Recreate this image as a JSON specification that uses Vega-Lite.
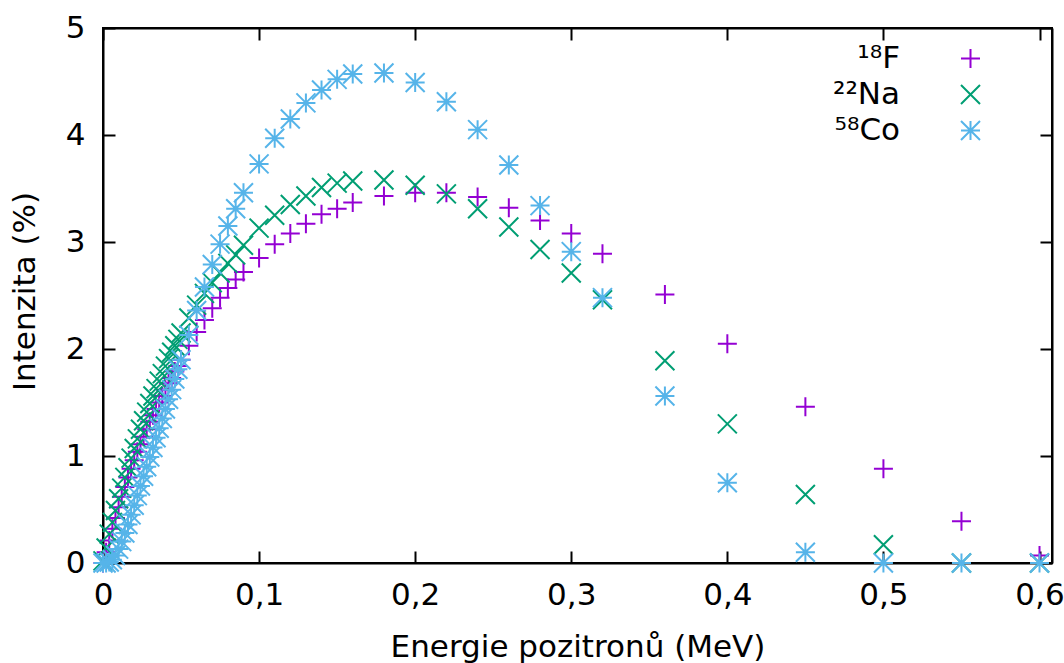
{
  "$schema": "https://vega.github.io/schema/vega-lite/v6.json",
  "width": 949,
  "height": 535,
  "autosize": {"type": "none"},
  "padding": {"left": 103, "top": 28, "right": 12, "bottom": 100},
  "background": "white",
  "config": {
    "font": "DejaVu Sans",
    "view": {"stroke": "black", "strokeWidth": 2},
    "axis": {
      "grid": false,
      "domainColor": "black",
      "domainWidth": 2,
      "tickColor": "black",
      "tickWidth": 2,
      "tickSize": -12,
      "labelFont": "DejaVu Sans",
      "labelFontSize": 31,
      "labelColor": "black",
      "labelFlush": false,
      "labelOverlap": false,
      "titleFont": "DejaVu Sans",
      "titleFontSize": 31,
      "titleFontWeight": "normal",
      "titleColor": "black"
    }
  },
  "data": {
    "values": [
      {"s": "F", "x": 0, "y": 0}, {"s": "F", "x": 0.002, "y": 0.10}, {"s": "F", "x": 0.004, "y": 0.21}, {"s": "F", "x": 0.006, "y": 0.32}, {"s": "F", "x": 0.008, "y": 0.42}, {"s": "F", "x": 0.01, "y": 0.52}, {"s": "F", "x": 0.012, "y": 0.62}, {"s": "F", "x": 0.014, "y": 0.71}, {"s": "F", "x": 0.016, "y": 0.80}, {"s": "F", "x": 0.018, "y": 0.88}, {"s": "F", "x": 0.02, "y": 0.96}, {"s": "F", "x": 0.022, "y": 1.04}, {"s": "F", "x": 0.024, "y": 1.11}, {"s": "F", "x": 0.026, "y": 1.18}, {"s": "F", "x": 0.028, "y": 1.25}, {"s": "F", "x": 0.03, "y": 1.32}, {"s": "F", "x": 0.032, "y": 1.38}, {"s": "F", "x": 0.034, "y": 1.44}, {"s": "F", "x": 0.036, "y": 1.50}, {"s": "F", "x": 0.038, "y": 1.56}, {"s": "F", "x": 0.04, "y": 1.62}, {"s": "F", "x": 0.042, "y": 1.68}, {"s": "F", "x": 0.044, "y": 1.73}, {"s": "F", "x": 0.046, "y": 1.79}, {"s": "F", "x": 0.048, "y": 1.84}, {"s": "F", "x": 0.05, "y": 1.90},
      {"s": "F", "x": 0.055, "y": 2.03}, {"s": "F", "x": 0.06, "y": 2.16}, {"s": "F", "x": 0.065, "y": 2.27}, {"s": "F", "x": 0.07, "y": 2.38}, {"s": "F", "x": 0.075, "y": 2.48}, {"s": "F", "x": 0.08, "y": 2.57}, {"s": "F", "x": 0.085, "y": 2.65}, {"s": "F", "x": 0.09, "y": 2.72},
      {"s": "F", "x": 0.1, "y": 2.85}, {"s": "F", "x": 0.11, "y": 2.98}, {"s": "F", "x": 0.12, "y": 3.08}, {"s": "F", "x": 0.13, "y": 3.17}, {"s": "F", "x": 0.14, "y": 3.26}, {"s": "F", "x": 0.15, "y": 3.31}, {"s": "F", "x": 0.16, "y": 3.37},
      {"s": "F", "x": 0.18, "y": 3.43}, {"s": "F", "x": 0.2, "y": 3.46}, {"s": "F", "x": 0.22, "y": 3.46}, {"s": "F", "x": 0.24, "y": 3.42}, {"s": "F", "x": 0.26, "y": 3.32}, {"s": "F", "x": 0.28, "y": 3.20}, {"s": "F", "x": 0.3, "y": 3.08}, {"s": "F", "x": 0.32, "y": 2.89},
      {"s": "F", "x": 0.36, "y": 2.51}, {"s": "F", "x": 0.4, "y": 2.05}, {"s": "F", "x": 0.45, "y": 1.46}, {"s": "F", "x": 0.5, "y": 0.88}, {"s": "F", "x": 0.55, "y": 0.39}, {"s": "F", "x": 0.6, "y": 0.07},

      {"s": "Na", "x": 0, "y": 0.02}, {"s": "Na", "x": 0.002, "y": 0.14}, {"s": "Na", "x": 0.004, "y": 0.27}, {"s": "Na", "x": 0.006, "y": 0.38}, {"s": "Na", "x": 0.008, "y": 0.49}, {"s": "Na", "x": 0.01, "y": 0.60}, {"s": "Na", "x": 0.012, "y": 0.70}, {"s": "Na", "x": 0.014, "y": 0.80}, {"s": "Na", "x": 0.016, "y": 0.89}, {"s": "Na", "x": 0.018, "y": 0.98}, {"s": "Na", "x": 0.02, "y": 1.07}, {"s": "Na", "x": 0.022, "y": 1.16}, {"s": "Na", "x": 0.024, "y": 1.25}, {"s": "Na", "x": 0.026, "y": 1.33}, {"s": "Na", "x": 0.028, "y": 1.41}, {"s": "Na", "x": 0.03, "y": 1.49}, {"s": "Na", "x": 0.032, "y": 1.56}, {"s": "Na", "x": 0.034, "y": 1.63}, {"s": "Na", "x": 0.036, "y": 1.70}, {"s": "Na", "x": 0.038, "y": 1.77}, {"s": "Na", "x": 0.04, "y": 1.84}, {"s": "Na", "x": 0.042, "y": 1.91}, {"s": "Na", "x": 0.044, "y": 1.97}, {"s": "Na", "x": 0.046, "y": 2.03}, {"s": "Na", "x": 0.048, "y": 2.09}, {"s": "Na", "x": 0.05, "y": 2.15},
      {"s": "Na", "x": 0.055, "y": 2.29}, {"s": "Na", "x": 0.06, "y": 2.41}, {"s": "Na", "x": 0.065, "y": 2.52}, {"s": "Na", "x": 0.07, "y": 2.62}, {"s": "Na", "x": 0.075, "y": 2.71}, {"s": "Na", "x": 0.08, "y": 2.80}, {"s": "Na", "x": 0.085, "y": 2.88}, {"s": "Na", "x": 0.09, "y": 2.97},
      {"s": "Na", "x": 0.1, "y": 3.13}, {"s": "Na", "x": 0.11, "y": 3.25}, {"s": "Na", "x": 0.12, "y": 3.35}, {"s": "Na", "x": 0.13, "y": 3.43}, {"s": "Na", "x": 0.14, "y": 3.51}, {"s": "Na", "x": 0.15, "y": 3.55}, {"s": "Na", "x": 0.16, "y": 3.57},
      {"s": "Na", "x": 0.18, "y": 3.58}, {"s": "Na", "x": 0.2, "y": 3.53}, {"s": "Na", "x": 0.22, "y": 3.45}, {"s": "Na", "x": 0.24, "y": 3.31}, {"s": "Na", "x": 0.26, "y": 3.14}, {"s": "Na", "x": 0.28, "y": 2.93}, {"s": "Na", "x": 0.3, "y": 2.71}, {"s": "Na", "x": 0.32, "y": 2.46},
      {"s": "Na", "x": 0.36, "y": 1.89}, {"s": "Na", "x": 0.4, "y": 1.30}, {"s": "Na", "x": 0.45, "y": 0.64}, {"s": "Na", "x": 0.5, "y": 0.17}, {"s": "Na", "x": 0.55, "y": 0.0}, {"s": "Na", "x": 0.6, "y": 0.0},

      {"s": "Co", "x": 0, "y": 0}, {"s": "Co", "x": 0.002, "y": 0}, {"s": "Co", "x": 0.004, "y": 0.01}, {"s": "Co", "x": 0.006, "y": 0.03}, {"s": "Co", "x": 0.008, "y": 0.07}, {"s": "Co", "x": 0.01, "y": 0.13}, {"s": "Co", "x": 0.012, "y": 0.20}, {"s": "Co", "x": 0.014, "y": 0.28}, {"s": "Co", "x": 0.016, "y": 0.36}, {"s": "Co", "x": 0.018, "y": 0.45}, {"s": "Co", "x": 0.02, "y": 0.54}, {"s": "Co", "x": 0.022, "y": 0.63}, {"s": "Co", "x": 0.024, "y": 0.72}, {"s": "Co", "x": 0.026, "y": 0.81}, {"s": "Co", "x": 0.028, "y": 0.90}, {"s": "Co", "x": 0.03, "y": 0.99}, {"s": "Co", "x": 0.032, "y": 1.08}, {"s": "Co", "x": 0.034, "y": 1.17}, {"s": "Co", "x": 0.036, "y": 1.26}, {"s": "Co", "x": 0.038, "y": 1.35}, {"s": "Co", "x": 0.04, "y": 1.44}, {"s": "Co", "x": 0.042, "y": 1.53}, {"s": "Co", "x": 0.044, "y": 1.62}, {"s": "Co", "x": 0.046, "y": 1.72}, {"s": "Co", "x": 0.048, "y": 1.81}, {"s": "Co", "x": 0.05, "y": 1.90},
      {"s": "Co", "x": 0.055, "y": 2.13}, {"s": "Co", "x": 0.06, "y": 2.36}, {"s": "Co", "x": 0.065, "y": 2.58}, {"s": "Co", "x": 0.07, "y": 2.79}, {"s": "Co", "x": 0.075, "y": 2.98}, {"s": "Co", "x": 0.08, "y": 3.15}, {"s": "Co", "x": 0.085, "y": 3.31}, {"s": "Co", "x": 0.09, "y": 3.46},
      {"s": "Co", "x": 0.1, "y": 3.73}, {"s": "Co", "x": 0.11, "y": 3.97}, {"s": "Co", "x": 0.12, "y": 4.15}, {"s": "Co", "x": 0.13, "y": 4.30}, {"s": "Co", "x": 0.14, "y": 4.42}, {"s": "Co", "x": 0.15, "y": 4.52}, {"s": "Co", "x": 0.16, "y": 4.57},
      {"s": "Co", "x": 0.18, "y": 4.58}, {"s": "Co", "x": 0.2, "y": 4.49}, {"s": "Co", "x": 0.22, "y": 4.31}, {"s": "Co", "x": 0.24, "y": 4.05}, {"s": "Co", "x": 0.26, "y": 3.72}, {"s": "Co", "x": 0.28, "y": 3.34}, {"s": "Co", "x": 0.3, "y": 2.91}, {"s": "Co", "x": 0.32, "y": 2.48},
      {"s": "Co", "x": 0.36, "y": 1.56}, {"s": "Co", "x": 0.4, "y": 0.75}, {"s": "Co", "x": 0.45, "y": 0.10}, {"s": "Co", "x": 0.5, "y": 0.0}, {"s": "Co", "x": 0.55, "y": 0.0}, {"s": "Co", "x": 0.6, "y": 0.0}
    ]
  },
  "layer": [
    {
      "mark": {"type": "point", "filled": false, "strokeWidth": 2, "opacity": 1},
      "encoding": {
        "x": {
          "field": "x", "type": "quantitative",
          "scale": {"domain": [0, 0.608], "nice": false, "zero": false},
          "axis": {
            "orient": "bottom",
            "values": [0, 0.1, 0.2, 0.3, 0.4, 0.5, 0.6],
            "labelExpr": "replace(format(datum.value, '.1~f'), '.', ',')",
            "labelPadding": 29,
            "title": "Energie pozitronů (MeV)",
            "titleY": 93,
            "titleBaseline": "alphabetic"
          }
        },
        "y": {
          "field": "y", "type": "quantitative",
          "scale": {"domain": [0, 5], "nice": false},
          "axis": {
            "orient": "left",
            "values": [0, 1, 2, 3, 4, 5],
            "labelPadding": 30,
            "title": "Intenzita (%)",
            "titleX": -69,
            "titleY": 263,
            "titleBaseline": "alphabetic"
          }
        },
        "color": {
          "field": "s", "type": "nominal",
          "scale": {"domain": ["F", "Na", "Co"], "range": ["#9400d3", "#009e73", "#56b4e9"]},
          "legend": {
            "orient": "none",
            "legendX": 852,
            "legendY": 15,
            "title": null,
            "padding": 0,
            "rowPadding": 4,
            "labelFont": "DejaVu Sans",
            "labelFontSize": 31,
            "labelColor": "black",
            "labelAlign": "right",
            "labelOffset": -86,
            "labelLimit": 0,
            "symbolSize": 361,
            "symbolStrokeWidth": 2,
            "labelExpr": "datum.label == 'F' ? '¹⁸F' : datum.label == 'Na' ? '²²Na' : '⁵⁸Co'"
          }
        },
        "shape": {
          "field": "s", "type": "nominal",
          "scale": {
            "domain": ["F", "Na", "Co"],
            "range": ["M-1,0L1,0M0,-1L0,1", "M-1,-1L1,1M-1,1L1,-1", "M-1,0L1,0M0,-1L0,1M-1,-1L1,1M-1,1L1,-1"]
          }
        },
        "size": {"value": 361}
      }
    },
    {
      "mark": {"type": "point", "opacity": 0},
      "encoding": {
        "x": {
          "field": "x", "type": "quantitative",
          "axis": {"orient": "top", "labels": false, "title": null, "values": [0, 0.1, 0.2, 0.3, 0.4, 0.5, 0.6]}
        },
        "y": {
          "field": "y", "type": "quantitative",
          "axis": {"orient": "right", "labels": false, "title": null, "values": [0, 1, 2, 3, 4, 5]}
        }
      }
    }
  ],
  "resolve": {"axis": {"x": "independent", "y": "independent"}}
}
